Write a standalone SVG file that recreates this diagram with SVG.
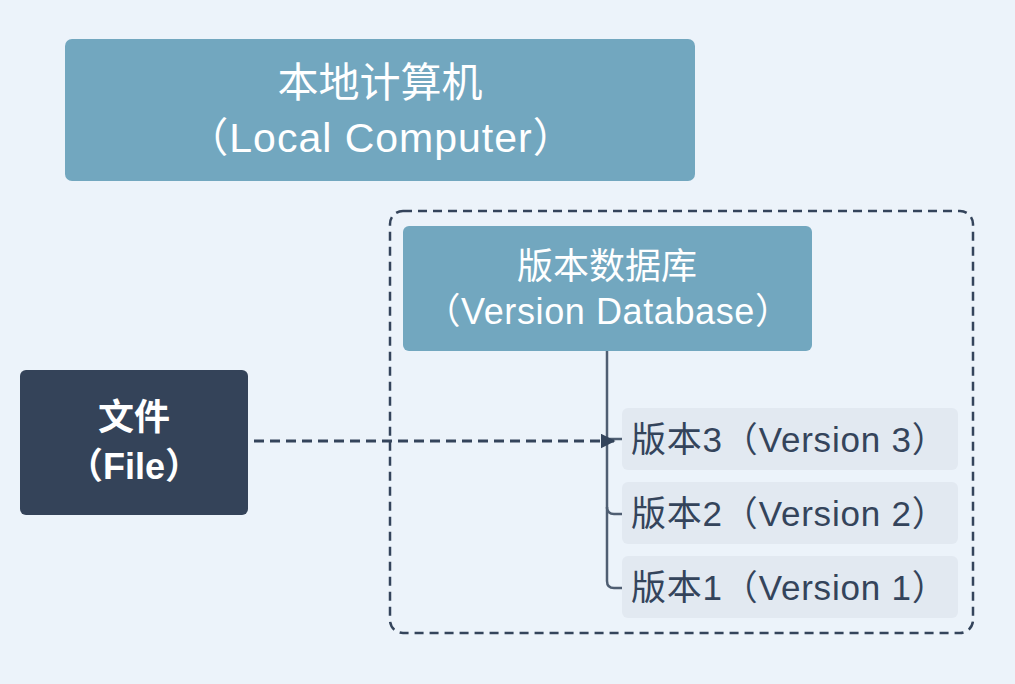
<svg xmlns="http://www.w3.org/2000/svg" width="1015" height="684" viewBox="0 0 1015 684">
<defs>
<style>
.t{font-family:"Liberation Sans","Noto Sans CJK SC",sans-serif;text-anchor:middle}
.l{font-family:"Liberation Sans","Noto Sans CJK SC",sans-serif;text-anchor:start}
.w{fill:#ffffff}
.d{fill:#34445B}
.ver{fill:#E2E9F1}
</style>
<marker id="ah" viewBox="0 0 10 10" refX="9" refY="5" markerWidth="5" markerHeight="5" orient="auto" markerUnits="strokeWidth">
<path d="M0,0 L10,5 L0,10 z" fill="#34445B"/>
</marker>
</defs>
<rect width="1015" height="684" fill="#ECF3FA"/>
<g id="local">
<rect x="65" y="39" width="630" height="142" rx="7" fill="#72A7BF"/>
<text class="t w" x="380" y="97" font-size="41">本地计算机</text>
<text class="t w" x="381" y="152" font-size="41" letter-spacing="1">（Local Computer）</text>
</g>
<g id="container">
<rect x="390" y="211" width="583" height="422" rx="13" fill="none" stroke="#34445B" stroke-width="2.5" stroke-dasharray="9,6"/>
</g>
<g id="db">
<rect x="403" y="226" width="409" height="125" rx="6" fill="#72A7BF"/>
<text class="t w" x="607" y="279" font-size="36">版本数据库</text>
<text class="t w" x="608" y="324" font-size="36" letter-spacing="0.6">（Version Database）</text>
</g>
<g id="file">
<rect x="20" y="370" width="228" height="145" rx="6" fill="#344359"/>
<text class="t w" x="134" y="430" font-size="36" font-weight="bold">文件</text>
<text class="t w" x="134" y="479" font-size="36" font-weight="bold">（File）</text>
</g>
<g id="v3">
<rect class="ver" x="622" y="408" width="336" height="62" rx="6"/>
<text class="l d" x="631" y="452" font-size="35" letter-spacing="0.8">版本3（Version 3）</text>
</g>
<g id="v2">
<rect class="ver" x="622" y="482" width="336" height="62" rx="6"/>
<text class="l d" x="631" y="526" font-size="35" letter-spacing="0.8">版本2（Version 2）</text>
</g>
<g id="v1">
<rect class="ver" x="622" y="556" width="336" height="62" rx="6"/>
<text class="l d" x="631" y="600" font-size="35" letter-spacing="0.8">版本1（Version 1）</text>
</g>
<g id="connectors" fill="none" stroke-width="2.5">
<path d="M607,351 V581 Q607,588 614,588 H622" stroke="#4F5E72"/>
<path d="M607,439 H622" stroke="#4F5E72"/>
<path d="M607,507 Q607,514 614,514 H622" stroke="#4F5E72"/>
<path d="M254,441 H614" stroke="#34445B" stroke-width="3" stroke-dasharray="10,6" marker-end="url(#ah)"/>
</g>
</svg>
